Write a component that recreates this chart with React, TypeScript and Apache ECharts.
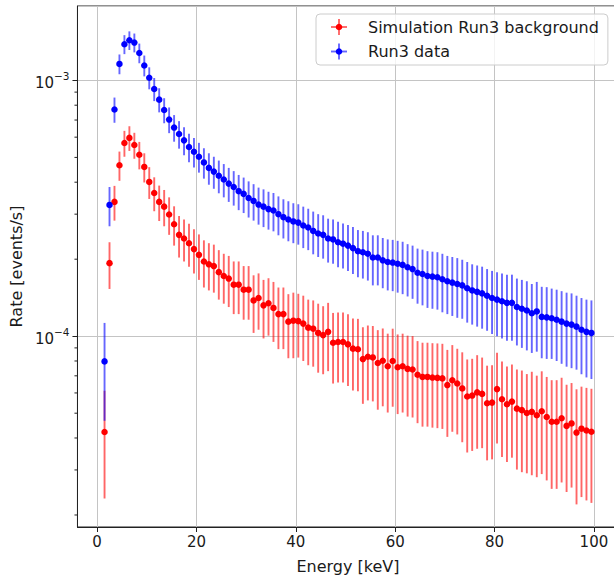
import React, { useEffect, useRef } from 'react';
import * as echarts from 'echarts';

const FONT = '"DejaVu Sans", "Noto Sans", sans-serif';
const TXT = '#1a1a1a';

// Energy bin centres (keV)
const energyKeV = [1.5,2.5,3.5,4.5,5.5,6.5,7.5,8.5,9.5,10.5,11.5,12.5,13.5,14.5,15.5,16.5,17.5,18.5,19.5,20.5,21.5,22.5,23.5,24.5,25.5,26.5,27.5,28.5,29.5,30.5,31.5,32.5,33.5,34.5,35.5,36.5,37.5,38.5,39.5,40.5,41.5,42.5,43.5,44.5,45.5,46.5,47.5,48.5,49.5,50.5,51.5,52.5,53.5,54.5,55.5,56.5,57.5,58.5,59.5,60.5,61.5,62.5,63.5,64.5,65.5,66.5,67.5,68.5,69.5,70.5,71.5,72.5,73.5,74.5,75.5,76.5,77.5,78.5,79.5,80.5,81.5,82.5,83.5,84.5,85.5,86.5,87.5,88.5,89.5,90.5,91.5,92.5,93.5,94.5,95.5,96.5,97.5,98.5,99.5];
const binHalfWidth = 0.5;

// Rates in units of 1e-5 events/s
const UNIT = 1e-5;
const simRate = [4.22,19.3,33.5,46.6,56.9,59.6,55.9,51.2,45.9,40.1,
36.3,33.5,32.1,29.9,27.4,24.9,24.1,23.1,21.9,20.8,
19.6,19.1,18.8,17.8,17.2,16.8,15.9,15.9,15.2,15.2,
13.8,14.1,13.2,13.45,12.9,12.2,12.2,11.4,11.5,11.45,
11.2,10.8,10.7,10.3,10.1,10.4,9.43,9.49,9.49,9.29,
8.94,8.89,8.14,8.31,8.26,7.86,8.02,7.63,8.0,7.56,
7.63,7.45,7.41,7.07,6.93,6.93,6.89,6.87,6.84,6.44,
6.73,6.53,6.25,5.81,5.86,6.03,5.95,5.47,5.50,6.21,
5.67,5.42,5.55,5.21,5.14,5.01,5.06,4.91,5.09,4.83,
4.63,4.63,4.78,4.46,4.56,4.20,4.35,4.28,4.23];
const simErr = [1.9,4.0,5.2,6.1,6.6,6.6,6.5,6.3,6.0,5.7,
5.5,5.3,5.2,5.0,4.8,4.6,4.5,4.4,4.3,4.2,
4.1,4.0,4.0,3.9,3.8,3.8,3.7,3.7,3.6,3.6,
3.5,3.5,3.4,3.4,3.4,3.3,3.3,3.2,3.3,3.2,
3.2,3.1,3.1,3.1,3.0,3.1,2.9,2.9,2.9,2.9,
2.8,2.8,2.7,2.7,2.7,2.7,2.7,2.6,2.7,2.6,
2.6,2.6,2.6,2.5,2.5,2.5,2.5,2.5,2.5,2.4,
2.5,2.4,2.4,2.3,2.3,2.4,2.3,2.2,2.2,2.4,
2.3,2.2,2.2,2.2,2.2,2.1,2.2,2.1,2.2,2.1,
2.1,2.1,2.1,2.0,2.0,2.0,2.0,2.0,2.0];
const dataRate = [7.97,32.6,77.0,116,138.5,143.5,140.6,128,114.4,102.4,
92.6,84.1,76.6,70.3,65.4,61.7,58.3,54.9,52.6,50.3,
47.8,45.5,44.0,42.4,41.0,39.5,38.3,36.9,36.0,34.7,
33.8,32.7,32.1,31.4,31.0,30.0,29.2,28.6,28.1,27.8,
27.1,26.6,25.8,25.2,24.9,24.1,23.9,23.3,23.0,22.6,
22.1,21.5,21.3,21.0,20.3,20.3,19.8,19.5,19.4,19.2,
19.0,18.6,18.3,17.7,17.5,17.2,17.1,17.0,16.7,16.4,
16.2,16.0,15.8,15.4,15.1,14.9,14.7,14.4,14.1,13.9,
13.7,13.5,13.5,13.0,12.8,12.6,12.3,12.5,11.9,11.85,
11.75,11.6,11.4,11.2,11.1,10.9,10.6,10.4,10.3];
const dataErr = [3.3,5.7,8.7,10.3,11.8,12.0,11.9,11.3,10.7,10.1,
9.6,9.1,8.6,8.1,7.8,7.6,7.3,7.0,6.9,6.7,
6.5,6.4,6.3,6.2,6.1,6.0,5.9,5.8,5.7,5.6,
5.5,5.4,5.4,5.3,5.3,5.2,5.1,5.1,5.0,5.0,
5.0,4.9,4.9,4.8,4.8,4.7,4.7,4.7,4.6,4.6,
4.6,4.5,4.5,4.5,4.5,4.5,4.4,4.4,4.4,4.4,
4.4,4.3,4.3,4.3,4.3,4.3,4.3,4.3,4.3,4.2,
4.2,4.2,4.1,4.1,4.0,4.0,4.0,3.9,3.9,3.9,
3.9,3.9,3.9,3.8,3.8,3.8,3.7,3.8,3.7,3.7,
3.6,3.6,3.6,3.6,3.6,3.5,3.5,3.5,3.5];

const seriesNames = ['Simulation Run3 background', 'Run3 data'];
const seriesColors = ['#ff0000', '#0000ff'];
const barColors = ['rgba(255,0,0,0.6)', 'rgba(0,0,255,0.6)'];
const xTickLabels = ['0', '20', '40', '60', '80', '100'];
const minorTickValues = [2e-5,3e-5,4e-5,5e-5,6e-5,7e-5,8e-5,9e-5,2e-4,3e-4,4e-4,5e-4,6e-4,7e-4,8e-4,9e-4];

const X_MIN = -3.95;
const X_MAX = 104.95;
const Y_MIN = 1.795e-5;
const Y_MAX = 1.954e-3;

function errorBarSeries(name: string, rates: number[], errs: number[], color: string, z: number) {
  return {
    type: 'custom',
    name: name + ' err',
    z,
    silent: true,
    encode: { x: 0, y: 1 },
    data: energyKeV.map((x, i) => [x, rates[i] * UNIT, errs[i] * UNIT]),
    renderItem: (params: any, api: any) => {
      const x = api.value(0);
      const y = api.value(1);
      const e = api.value(2);
      const top = api.coord([x, y + e]);
      const bot = api.coord([x, y - e]);
      const l = api.coord([x - binHalfWidth, y]);
      const r = api.coord([x + binHalfWidth, y]);
      return {
        type: 'group',
        children: [
          { type: 'line', shape: { x1: top[0], y1: top[1], x2: bot[0], y2: bot[1] }, style: { stroke: color, lineWidth: 1.9 } },
          { type: 'line', shape: { x1: l[0], y1: l[1], x2: r[0], y2: r[1] }, style: { stroke: color, lineWidth: 1.9 } },
        ],
      };
    },
  };
}

function markerSeries(name: string, rates: number[], color: string, z: number) {
  return {
    type: 'scatter',
    name,
    z,
    symbol: 'circle',
    symbolSize: 6.5,
    itemStyle: { color, opacity: 1 },
    silent: true,
    data: energyKeV.map((x, i) => [x, rates[i] * UNIT]),
  };
}

// legend glyphs (error-bar cross + marker), placed over the legend's own icon slots
function legendGlyph(cx: number, cy: number, i: number) {
  return {
    type: 'group',
    silent: true,
    children: [
      { type: 'line', z: 100, shape: { x1: cx - 8, y1: cy, x2: cx + 8, y2: cy }, style: { stroke: barColors[i], lineWidth: 1.9 } },
      { type: 'line', z: 100, shape: { x1: cx, y1: cy - 8, x2: cx, y2: cy + 8 }, style: { stroke: barColors[i], lineWidth: 1.9 } },
      { type: 'circle', z: 101, shape: { cx, cy, r: 3.25 }, style: { fill: seriesColors[i] } },
    ],
  };
}

const option: any = {
  animation: false,
  backgroundColor: '#ffffff',
  textStyle: { fontFamily: FONT },
  grid: {
    left: 73, top: 6, width: 545.5, height: 532.3,
    show: true, borderColor: '#222', borderWidth: 1, backgroundColor: 'transparent',
  },
  legend: {
    z: 4,
    data: seriesNames.map((n) => ({ name: n, icon: 'rect', itemStyle: { opacity: 0 } })),
    orient: 'vertical',
    left: 316,
    top: 14,
    itemWidth: 16,
    itemHeight: 16,
    itemGap: 8,
    padding: [5, 9, 6, 15],
    borderColor: '#cccccc',
    borderWidth: 1,
    borderRadius: 4,
    backgroundColor: 'rgba(255,255,255,0.8)',
    selectedMode: false,
    textStyle: { fontSize: 16, color: TXT, fontFamily: FONT, padding: [0, 0, 0, 16] },
  },
  graphic: { elements: [legendGlyph(339, 27, 0), legendGlyph(339, 51.5, 1)], z: 50 },
  xAxis: {
    type: 'value',
    min: X_MIN,
    max: X_MAX,
    splitNumber: 5,
    name: 'Energy [keV]',
    nameLocation: 'middle',
    nameGap: 31,
    nameTextStyle: { fontSize: 16, color: TXT, fontFamily: FONT },
    axisLine: { show: true, onZero: false, lineStyle: { color: '#222', width: 1 } },
    axisTick: { show: true, length: 5, lineStyle: { color: '#222', width: 1 } },
    axisLabel: {
      fontSize: 15, color: TXT, fontFamily: FONT, margin: 7,
      showMinLabel: false, showMaxLabel: false,
      formatter: (v: number) => {
        const s = String(Math.round(v));
        return xTickLabels.includes(s) ? s : '';
      },
    },
    splitLine: { show: true, lineStyle: { color: '#c4c4c4', width: 1 } },
  },
  yAxis: {
    type: 'log',
    logBase: 10,
    min: Y_MIN,
    max: Y_MAX,
    name: 'Rate [events/s]',
    nameLocation: 'middle',
    nameGap: 39,
    nameTextStyle: { fontSize: 16, color: TXT, fontFamily: FONT },
    axisLine: { show: true, onZero: false, lineStyle: { color: '#222', width: 1 } },
    axisTick: { show: true, length: 5, lineStyle: { color: '#222', width: 1 } },
    axisLabel: {
      color: TXT, fontFamily: FONT, margin: 8,
      showMinLabel: false, showMaxLabel: false,
      formatter: (v: number) => {
        const e = Math.round(Math.log10(v));
        return '{b|10}{s|' + (e < 0 ? '\u2212' : '') + Math.abs(e) + '}';
      },
      rich: {
        b: { fontSize: 15, color: TXT, fontFamily: FONT, lineHeight: 20, verticalAlign: 'bottom' },
        s: { fontSize: 10.5, color: TXT, fontFamily: FONT, lineHeight: 12, verticalAlign: 'top' },
      },
    },
    splitLine: { show: true, lineStyle: { color: '#c4c4c4', width: 1 } },
  },
  series: [
    errorBarSeries(seriesNames[0], simRate, simErr, barColors[0], 2),
    markerSeries(seriesNames[0], simRate, seriesColors[0], 3),
    errorBarSeries(seriesNames[1], dataRate, dataErr, barColors[1], 4),
    markerSeries(seriesNames[1], dataRate, seriesColors[1], 5),
    {
      type: 'custom',
      name: 'minor ticks',
      z: 10,
      silent: true,
      encode: { x: 0, y: 1 },
      data: minorTickValues.map((v) => [X_MIN, v]),
      renderItem: (params: any, api: any) => {
        const p = api.coord([api.value(0), api.value(1)]);
        return { type: 'line', shape: { x1: p[0] - 3, y1: p[1], x2: p[0], y2: p[1] }, style: { stroke: '#222', lineWidth: 1 } };
      },
    },
  ],
};

export default function App() {
  const ref = useRef<HTMLDivElement>(null);
  useEffect(() => {
    document.body.style.margin = '0';
    document.body.style.overflow = 'hidden';
    const chart = echarts.init(ref.current as HTMLDivElement, null, { renderer: 'svg' });
    chart.setOption(option);
    return () => chart.dispose();
  }, []);
  return <div ref={ref} style={{ width: 640, height: 579 }} />;
}
